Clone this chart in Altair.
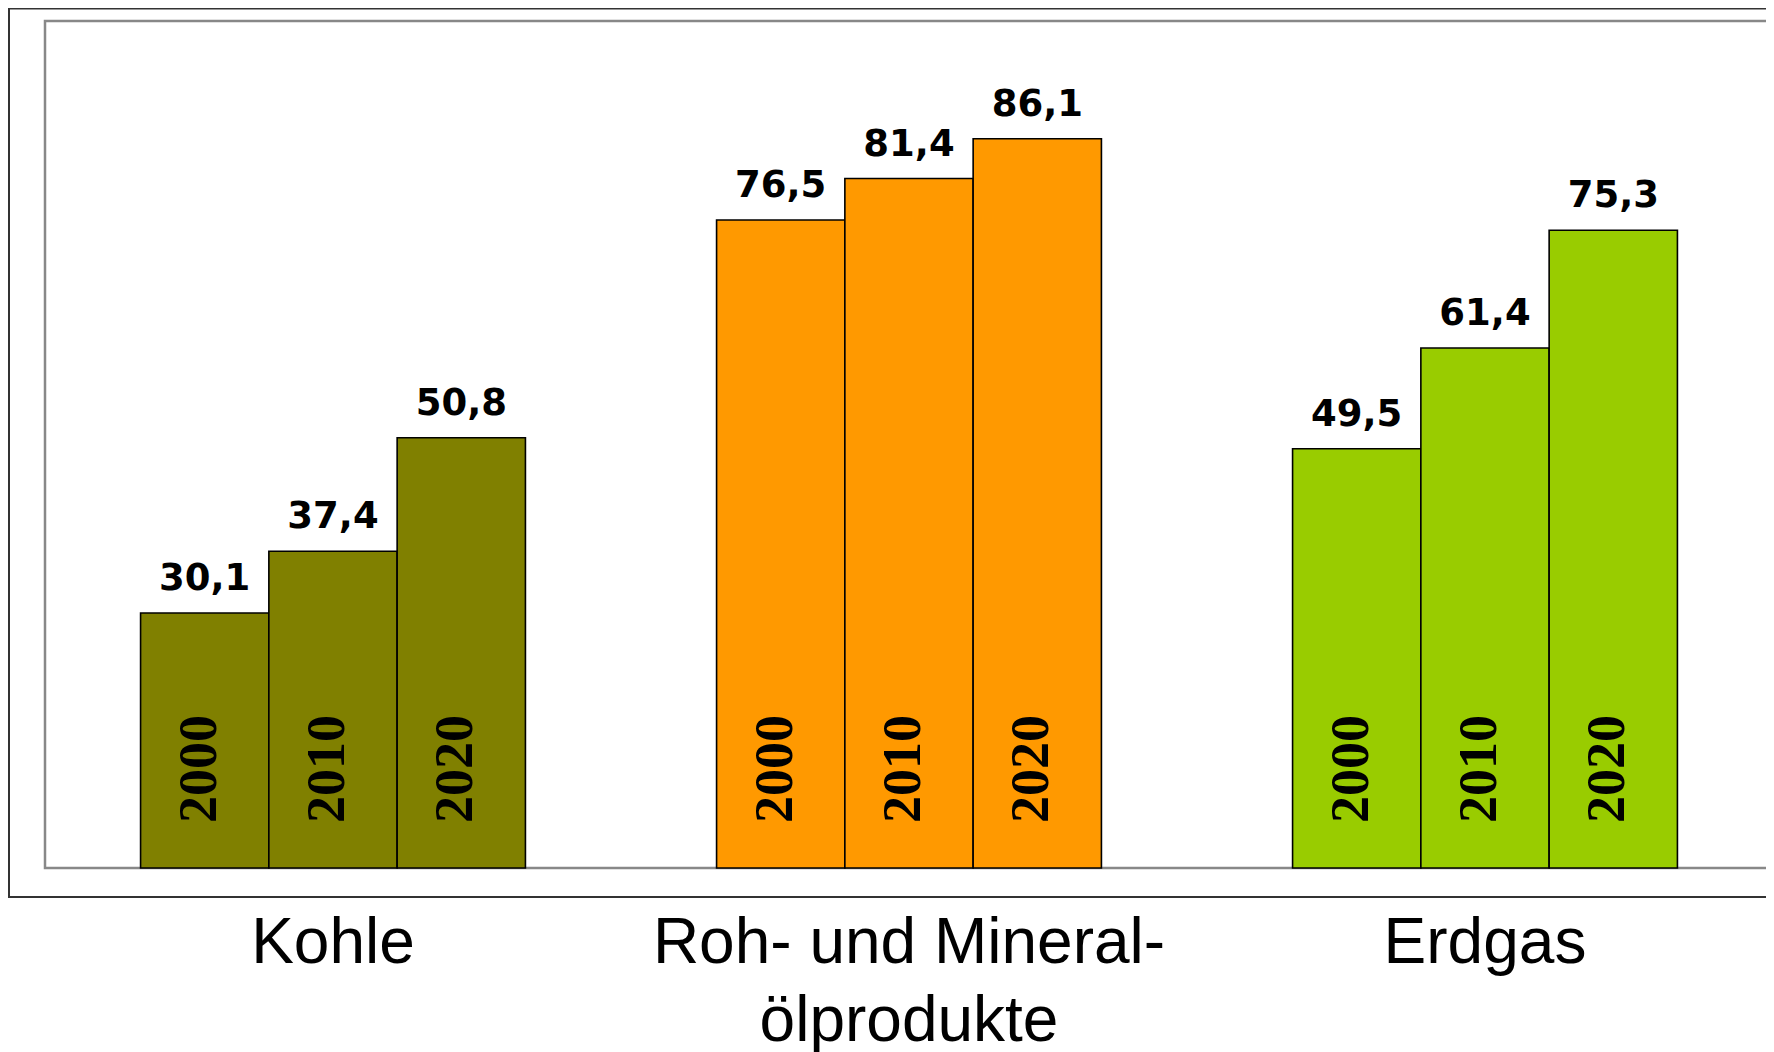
import altair as alt
import pandas as pd

categories = ["Kohle", "Roh- und Mineral-\nölprodukte", "Erdgas"]
years = ["2000", "2010", "2020"]
kohle = [30.1, 37.4, 50.8]
oel = [76.5, 81.4, 86.1]
erdgas = [49.5, 61.4, 75.3]
colors = ["#808000", "#FF9900", "#99CC00"]

rows = []
for cat, vals in zip(categories, [kohle, oel, erdgas]):
    for yr, v in zip(years, vals):
        rows.append({"cat": cat, "year": yr, "value": v,
                     "label": f"{v:.1f}".replace(".", ",")})
df = pd.DataFrame(rows)

x_enc = alt.X("cat:N", sort=categories,
              scale=alt.Scale(paddingInner=0, paddingOuter=0),
              axis=alt.Axis(title=None, labelAngle=0, ticks=False, tickSize=0,
                            domain=False, grid=False,
                            labelFont="Liberation Sans", labelFontSize=64,
                            labelColor="black", labelPadding=43,
                            labelBaseline="top", labelLineHeight=78,
                            labelLimit=2000, labelOverlap=False,
                            labelExpr="split(datum.label, '\\n')"))
xo_enc = alt.XOffset("year:N", sort=years,
                     scale=alt.Scale(paddingInner=0, paddingOuter=0.745))
y_scale = alt.Scale(domain=[0, 100], nice=False, zero=True)

base = alt.Chart(df)

bars = base.mark_bar(stroke="black", strokeWidth=1.6).encode(
    x=x_enc,
    xOffset=xo_enc,
    y=alt.Y("value:Q", scale=y_scale, axis=None),
    color=alt.Color("cat:N", scale=alt.Scale(domain=categories, range=colors), legend=None),
)

vals_txt = base.mark_text(font="DejaVu Sans", fontWeight="bold", fontSize=37,
                          baseline="alphabetic", dy=-23, color="black").encode(
    x=x_enc,
    xOffset=xo_enc,
    y=alt.Y("value:Q", scale=y_scale, axis=None),
    text="label:N",
)

year_txt = base.mark_text(font="Liberation Serif", fontWeight="bold", fontSize=54,
                          angle=270, align="left", baseline="alphabetic",
                          dx=45, dy=11, color="black").encode(
    x=x_enc,
    xOffset=xo_enc,
    y=alt.datum(0, scale=y_scale),
    text="year:N",
)

frame = alt.Chart(pd.DataFrame({"a": [0]})).mark_rect(
    fillOpacity=0, stroke="#333333", strokeWidth=2).encode(
    x=alt.value(-36), x2=alt.value(1740), y=alt.value(-12.5), y2=alt.value(876)
)

chart = alt.layer(frame, bars, vals_txt, year_txt).properties(
    width=1728, height=847,
    padding={"left": 37, "top": 13, "right": -7, "bottom": 184},
    autosize=alt.AutoSizeParams(type="none"),
    background="white",
).configure_view(stroke="#888888", strokeWidth=2.5)

chart.save("out.html", embed_options={"renderer": "svg", "actions": False})
